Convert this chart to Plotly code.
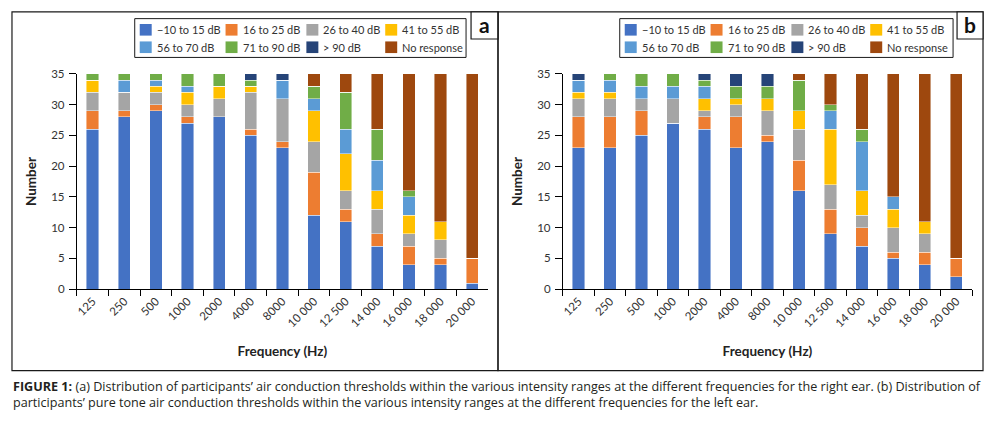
import plotly.graph_objects as go

W, H = 988, 430

frequencies = ["125", "250", "500", "1000", "2000", "4000", "8000",
               "10 000", "12 500", "14 000", "16 000", "18 000", "20 000"]
ranges = ["\u221210 to 15 dB", "16 to 25 dB", "26 to 40 dB", "41 to 55 dB",
          "56 to 70 dB", "71 to 90 dB", "> 90 dB", "No response"]
colors = ["#4472C4", "#ED7D31", "#A5A5A5", "#FFC000",
          "#5B9BD5", "#70AD47", "#264478", "#9E480E"]

# (a) right ear
right_m10_15 = [26, 28, 29, 27, 28, 25, 23, 12, 11, 7, 4, 4, 1]
right_16_25 = [3, 1, 1, 1, 0, 1, 1, 7, 2, 2, 3, 1, 4]
right_26_40 = [3, 3, 2, 2, 3, 6, 7, 5, 3, 4, 2, 3, 0]
right_41_55 = [2, 0, 1, 2, 2, 1, 0, 5, 6, 3, 3, 3, 0]
right_56_70 = [0, 2, 1, 1, 0, 0, 3, 2, 4, 5, 3, 0, 0]
right_71_90 = [1, 1, 1, 2, 2, 1, 0, 2, 6, 5, 1, 0, 0]
right_gt90 = [0, 0, 0, 0, 0, 1, 1, 0, 0, 0, 0, 0, 0]
right_noresp = [0, 0, 0, 0, 0, 0, 0, 2, 3, 9, 19, 24, 30]

# (b) left ear
left_m10_15 = [23, 23, 25, 27, 26, 23, 24, 16, 9, 7, 5, 4, 2]
left_16_25 = [5, 5, 4, 0, 2, 5, 1, 5, 4, 3, 1, 2, 3]
left_26_40 = [3, 3, 2, 4, 1, 2, 4, 5, 4, 2, 4, 3, 0]
left_41_55 = [1, 1, 0, 0, 2, 1, 2, 3, 9, 4, 3, 2, 0]
left_56_70 = [2, 2, 2, 2, 2, 0, 0, 0, 3, 8, 2, 0, 0]
left_71_90 = [0, 1, 2, 2, 1, 2, 2, 5, 1, 2, 0, 0, 0]
left_gt90 = [1, 0, 0, 0, 1, 2, 2, 0, 0, 0, 0, 0, 0]
left_noresp = [0, 0, 0, 0, 0, 0, 0, 1, 5, 9, 20, 24, 30]

right_series = [right_m10_15, right_16_25, right_26_40, right_41_55,
                right_56_70, right_71_90, right_gt90, right_noresp]
left_series = [left_m10_15, left_16_25, left_26_40, left_41_55,
               left_56_70, left_71_90, left_gt90, left_noresp]


def fx(px):
    return px / W


def fy(py):
    return 1 - py / H


CHART_FONT = "Lato"
TEXT_COLOR = "#333333"

fig = go.Figure()
for panel, series, xa, ya in [("a", right_series, "x", "y"), ("b", left_series, "x2", "y2")]:
    for name, vals, col in zip(ranges, series, colors):
        fig.add_trace(go.Bar(
            x=frequencies, y=vals, name=name, xaxis=xa, yaxis=ya,
            marker=dict(color=col, line=dict(color="rgba(255,255,255,0.55)", width=0.8)),
            showlegend=False,
            hovertemplate=name + ": %{y}<extra></extra>",
        ))

ydom = [fy(291), fy(69)]
axis_common_x = dict(
    type="category", range=[-0.5, 12.5], tickson="boundaries",
    ticks="outside", ticklen=6, tickcolor="black", tickwidth=1,
    showline=True, linecolor="black", linewidth=1, showgrid=False,
    tickangle=-45, tickfont=dict(family=CHART_FONT, size=11.5, color=TEXT_COLOR),
    title=dict(text="<b>Frequency (Hz)</b>", font=dict(family=CHART_FONT, size=13.5, color="#222"),
               standoff=18),
    fixedrange=True,
)
axis_common_y = dict(
    range=[0, 35], dtick=5, ticks="outside", ticklen=7, tickcolor="black", tickwidth=1,
    showline=True, linecolor="black", linewidth=1, showgrid=False, zeroline=False,
    ticklabelstandoff=2,
    tickfont=dict(family=CHART_FONT, size=11.5, color=TEXT_COLOR),
    title=dict(text="<b>Number</b>", font=dict(family=CHART_FONT, size=13.5, color="#222"),
               standoff=11),
    fixedrange=True,
)

fig.update_layout(
    width=W, height=H, margin=dict(l=0, r=0, t=0, b=0),
    paper_bgcolor="white", plot_bgcolor="white",
    barmode="stack", bargap=0.61,
    xaxis=dict(domain=[fx(75), fx(487)], anchor="y", **axis_common_x),
    yaxis=dict(domain=ydom, anchor="x", **axis_common_y),
    xaxis2=dict(domain=[fx(562), fx(972)], anchor="y2", **axis_common_x),
    yaxis2=dict(domain=ydom, anchor="x2", **axis_common_y),
    font=dict(family=CHART_FONT, color=TEXT_COLOR),
)

shapes = []
annotations = []

# panel frames and panel label boxes
for (x0, x1, lx0, label) in [(10, 497, 470, "a"), (497, 983, 957, "b")]:
    shapes.append(dict(type="rect", xref="paper", yref="paper",
                       x0=fx(x0), x1=fx(x1), y0=fy(375), y1=fy(5),
                       line=dict(color="#1a1a1a", width=1.2), fillcolor="rgba(0,0,0,0)"))
    shapes.append(dict(type="rect", xref="paper", yref="paper",
                       x0=fx(lx0), x1=fx(x1), y0=fy(33), y1=fy(5),
                       line=dict(color="#1a1a1a", width=1.2), fillcolor="white"))
    annotations.append(dict(xref="paper", yref="paper", x=fx((lx0 + x1) / 2), y=fy(18),
                            text="<b>" + label + "</b>", showarrow=False,
                            xanchor="center", yanchor="middle",
                            font=dict(family=CHART_FONT, size=21, color="#111")))

# legends (one per panel)
col_off = [5, 91, 172, 251]
row_y = [23.5, 41.5]
for (bx0, bx1) in [(133, 465), (619, 953)]:
    shapes.append(dict(type="rect", xref="paper", yref="paper",
                       x0=fx(bx0), x1=fx(bx1), y0=fy(52), y1=fy(12),
                       line=dict(color="#1a1a1a", width=1), fillcolor="white"))
    for i, (name, col) in enumerate(zip(ranges, colors)):
        r, c = divmod(i, 4)
        sx = bx0 + col_off[c]
        yc = row_y[r]
        shapes.append(dict(type="rect", xref="paper", yref="paper",
                           x0=fx(sx), x1=fx(sx + 12), y0=fy(yc + 6), y1=fy(yc - 6),
                           line=dict(width=0), fillcolor=col))
        annotations.append(dict(xref="paper", yref="paper", x=fx(sx + 15), y=fy(yc),
                                text=name, showarrow=False, xanchor="left", yanchor="middle",
                                font=dict(family=CHART_FONT, size=11, color=TEXT_COLOR)))

# caption (one two-line text)
cap_font = dict(family="Open Sans", size=12.6, color="#231F20")
annotations.append(dict(
    xref="paper", yref="paper", x=fx(9), y=fy(400), xanchor="left", yanchor="middle",
    showarrow=False, font=cap_font, align="left",
    text="<b>FIGURE 1:</b> (a) Distribution of participants\u2019 air conduction thresholds within the various "
         "intensity ranges at the different frequencies for the right ear. (b) Distribution of<br>"
         "participants\u2019 pure tone air conduction thresholds within the various intensity ranges "
         "at the different frequencies for the left ear."))

fig.update_layout(shapes=shapes, annotations=annotations)
fig.write_html("out.html",
               config={"displayModeBar": False},
               post_script="document.body.style.margin='0';document.body.style.overflow='hidden';")
